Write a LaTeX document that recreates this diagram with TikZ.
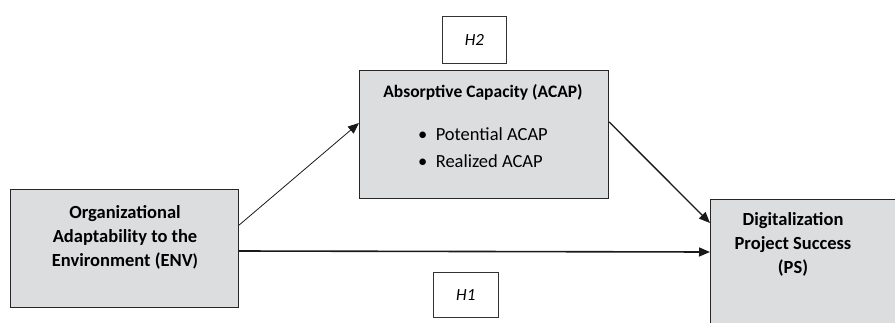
\documentclass[tikz,border=0pt]{standalone}
\usepackage{fontspec}
\setmainfont{Carlito}
\usetikzlibrary{arrows.meta, positioning}

\definecolor{boxgray}{HTML}{DCDDDE}
\tikzset{
  box/.style={draw=black!85, fill=boxgray, line width=1.2pt, anchor=north west, inner sep=0pt},
  hypbox/.style={draw=black!80, fill=white, line width=0.7pt, anchor=north west, inner sep=0pt},
  lbl/.style={align=center, font=\fontsize{18.5}{24}\selectfont\bfseries, inner sep=0pt},
  arr/.style={-{Triangle[length=11pt, width=9pt]}, black!90}
}

\begin{document}
\begin{tikzpicture}[x=1pt, y=-1pt]
\useasboundingbox (0,0) rectangle (895,322);
\clip (0,0) rectangle (895,322);

% constructs
\node[box, minimum width=228pt, minimum height=118pt] (env) at (10,189) {};
\node[box, minimum width=249pt, minimum height=128pt] (acap) at (359,70) {};
\node[box, minimum width=200pt, minimum height=140pt] (ps) at (710,199) {};

% last line sits on the given baseline
\node[lbl, anchor=base] (envtxt) at (125,266) {Organizational\\Adaptability to the\\Environment (ENV\textbf{\LARGE)}};
\node[lbl, font=\fontsize{17.5}{24}\selectfont\bfseries, anchor=base] (acaptxt) at (483,97) {Absorptive Capacity (ACAP)};
\node[font=\fontsize{18.5}{27}\selectfont, align=left, anchor=base west, inner sep=0pt] (dims) at (418,167)
  {\textbullet\ \ Potential ACAP\\ \textbullet\ \ Realized ACAP};
\node[lbl, anchor=base] (pstxt) at (793,273) {Digitalization\\Project Success\\(PS)};

% hypotheses
\node[hypbox, minimum width=64pt, minimum height=47pt] (h2) at (442,16) {};
\node[font=\fontsize{17}{17}\selectfont\itshape] at (h2.center) {H2};
\node[hypbox, minimum width=65pt, minimum height=45pt] (h1) at (433,272) {};
\node[font=\fontsize{17}{17}\selectfont\itshape] at (h1.center) {H1};

% paths
\draw[arr, line width=0.8pt] ([yshift=-36pt]env.north east) -- ([yshift=-53pt]acap.north west);
\draw[arr, line width=1.3pt] ([yshift=-52pt]acap.north east) -- ([yshift=-24pt]ps.north west);
\draw[arr, line width=1.6pt] ([yshift=-62pt]env.north east) -- ([yshift=-53pt]ps.north west);
\end{tikzpicture}
\end{document}
